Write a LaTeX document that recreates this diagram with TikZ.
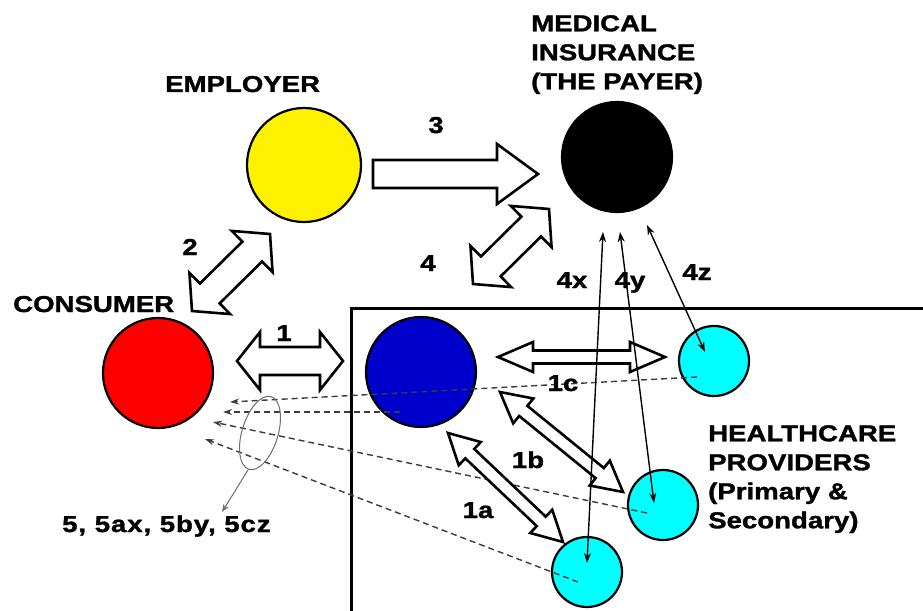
\documentclass[tikz,border=0pt]{standalone}
\usepackage{fontspec}
\newfontfamily\lab{Liberation Sans}[FakeStretch=1.2, BoldFeatures={FakeBold=1.4}]
\usetikzlibrary{calc,arrows.meta,shapes.geometric}
\definecolor{cyanfill}{RGB}{0,255,255}
\definecolor{bluefill}{RGB}{0,0,205}
\definecolor{dashgray}{RGB}{60,60,60}
\definecolor{ellgray}{RGB}{110,110,110}
\newcommand{\dblblock}[5]{%
  \draw[blockarrow] (#1)
    -- ($(#1)!#5!(#2)!#4!90:(#2)$) -- ($(#1)!#5!(#2)!#3!90:(#2)$)
    -- ($(#2)!#5!(#1)!#3!90:(#2)$) -- ($(#2)!#5!(#1)!#4!90:(#2)$)
    -- (#2)
    -- ($(#2)!#5!(#1)!#4!-90:(#2)$) -- ($(#2)!#5!(#1)!#3!-90:(#2)$)
    -- ($(#1)!#5!(#2)!#3!-90:(#2)$) -- ($(#1)!#5!(#2)!#4!-90:(#2)$)
    -- cycle;}
\newcommand{\sglblock}[5]{%
  \draw[blockarrow] ($(#1)!#3!90:(#2)$)
    -- ($(#2)!#5!(#1)!#3!90:(#2)$) -- ($(#2)!#5!(#1)!#4!90:(#2)$)
    -- (#2)
    -- ($(#2)!#5!(#1)!#4!-90:(#2)$) -- ($(#2)!#5!(#1)!#3!-90:(#2)$)
    -- ($(#1)!#3!-90:(#2)$) -- cycle;}
\begin{document}
\begin{tikzpicture}[x=1pt,y=-1pt,
  party/.style={circle, draw=black, line width=2.2pt, inner sep=0pt},
  big/.style={party, minimum size=110pt},
  small/.style={party, minimum size=70pt, fill=cyanfill},
  blockarrow/.style={draw=black, line width=2.6pt, fill=white, line join=miter},
  lbl/.style={font=\lab\bfseries\fontsize{23}{29}\selectfont, inner sep=0pt, text=black},
  thin/.style={line width=1.4pt, {Stealth[length=10pt,width=7pt]}-{Stealth[length=10pt,width=7pt]}},
  dashln/.style={draw=dashgray, line width=1.4pt, dash pattern=on 6pt off 4pt, -{Stealth[length=9pt,width=6pt]}},
  ellln/.style={draw=ellgray, line width=1pt}
]
\useasboundingbox (0,0) rectangle (923,610);
\clip (0,0) rectangle (923,610);
\fill[white] (0,0) rectangle (923,610);

% providers box
\draw[line width=3pt] (930,308) -- (351,308) -- (351,620);

% parties
\node[big, fill=yellow, minimum size=114pt] (emp) at (304,165) {};
\node[big, fill=black] (ins) at (617,157) {};
\node[big, fill=red] (con) at (158,373) {};
\node[big, fill=bluefill] (hos) at (421,372) {};
\node[small] (p1) at (714,361) {};
\node[small] (p2) at (663,505) {};
\node[small] (p3) at (587,572) {};

% dashed reports back to consumer
\coordinate (d1s) at (697,377); \coordinate (d1e) at (230,402);
\coordinate (d2s) at (400,412); \coordinate (d2e) at (223,412);
\coordinate (d3s) at (647,513); \coordinate (d3e) at (213,422);
\coordinate (d4s) at (578,582); \coordinate (d4e) at (205,439);
\draw[dashln] (d1s) -- (d1e);
\draw[dashln] (d2s) -- (d2e);
\draw[dashln] (d3s) -- (d3e);
\draw[dashln] (d4s) -- (d4e);

% block arrows
\coordinate (a1s) at (237,361); \coordinate (a1e) at (343,361);
\coordinate (a2s) at (192,311); \coordinate (a2e) at (270,234);
\coordinate (a3s) at (373,174); \coordinate (a3e) at (538,174);
\coordinate (a4s) at (473,284); \coordinate (a4e) at (549,209);
\coordinate (acs) at (498,357); \coordinate (ace) at (665,357);
\coordinate (abs) at (500,392); \coordinate (abe) at (623,492);
\coordinate (aas) at (448,433); \coordinate (aae) at (563,542);
\dblblock{a1s}{a1e}{14pt}{29pt}{23pt}
\dblblock{a2s}{a2e}{14pt}{29pt}{25pt}
\sglblock{a3s}{a3e}{14pt}{30pt}{41pt}
\dblblock{a4s}{a4e}{14pt}{29pt}{25pt}
\dblblock{acs}{ace}{6.5pt}{15pt}{35pt}
\dblblock{abs}{abe}{6.5pt}{16pt}{30pt}
\dblblock{aas}{aae}{6.5pt}{16pt}{30pt}

% thin payer arrows
\coordinate (xt) at (603,232); \coordinate (xb) at (587,563);
\coordinate (yt) at (620,232); \coordinate (yb) at (654,503);
\coordinate (zt) at (647,225); \coordinate (zb) at (705,352);
\draw[thin] (xt) -- (xb);
\draw[thin] (yt) -- (yb);
\draw[thin] (zt) -- (zb);

% ellipse grouping the dashed lines
\node[ellln, ellipse, draw, minimum width=36pt, minimum height=76pt, rotate=-17, inner sep=0pt] (grp) at (260,433) {};
\coordinate (grpl) at (222,512);
\draw[ellln, -{Stealth[length=8pt,width=6pt]}] (248,470) -- (grpl);

% titles
\node[lbl, anchor=base west] (tEmp) at (165,92) {EMPLOYER};
\node[lbl, anchor=north west, align=left] (tIns) at (531,15) {MEDICAL\\INSURANCE\\(THE PAYER)};
\node[lbl, anchor=base west] (tCon) at (13,312) {CONSUMER};
\node[lbl, anchor=north west, align=left] (tHos) at (708,425) {HEALTHCARE\\PROVIDERS\\(Primary \&\\Secondary)};
\node[lbl, anchor=base west] (tFive) at (62,532) {\addfontfeature{LetterSpace=4}5, 5ax, 5by, 5cz};

% flow numbers
\node[lbl, anchor=base] (n1) at (284,341) {1};
\node[lbl, anchor=base] (n2) at (190,255) {2};
\node[lbl, anchor=base] (n3) at (436,133) {3};
\node[lbl, anchor=base] (n4) at (428,271) {4};
\node[lbl, anchor=base] (n4x) at (572,288) {4x};
\node[lbl, anchor=base] (n4y) at (630,288) {4y};
\node[lbl, anchor=base] (n4z) at (697,280) {4z};
\node[lbl, anchor=base] (n1c) at (563,391) {1c};
\node[lbl, anchor=base] (n1b) at (528,468) {1b};
\node[lbl, anchor=base] (n1a) at (478,518) {1a};
\end{tikzpicture}
\end{document}
